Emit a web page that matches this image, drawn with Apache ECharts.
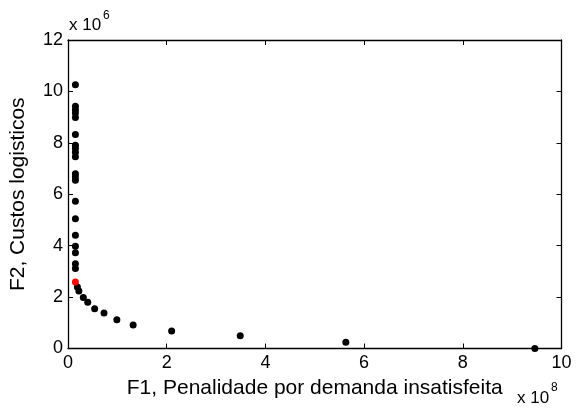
<!DOCTYPE html>
<html>
<head>
<meta charset="utf-8">
<script src="https://cdn.jsdelivr.net/npm/echarts@6/dist/echarts.min.js"></script>
<style>html,body{margin:0;padding:0;background:#fff}#c{width:582px;height:408px}</style>
</head>
<body>
<div id="c"></div>
<script>
// F1 in units of 1e8, F2 in units of 1e6
var f1 = [0.15,0.15,0.15,0.15,0.15,0.15,0.15,0.15,0.15,0.15,0.15,0.15,0.15,0.15,0.15,0.15,0.15,0.15,0.15,0.15,
          0.19,0.22,0.31,0.40,0.54,0.73,0.99,1.32,2.10,3.49,5.63,9.46];
var f2 = [10.26,9.42,9.29,9.16,8.99,8.32,7.91,7.79,7.63,7.46,6.80,6.67,6.54,5.73,5.05,4.41,3.98,3.72,3.30,3.11,
          2.39,2.24,1.98,1.80,1.55,1.38,1.12,0.91,0.68,0.50,0.24,0.0];
var selF1 = [0.15];
var selF2 = [2.59];
var xTicks = [0,2,4,6,8,10];
var yTicks = [0,2,4,6,8,10,12];

var pts = f1.map(function(v,i){return [v,f2[i]];});
var sel = selF1.map(function(v,i){return [v,selF2[i]];});
var FONT = '"Liberation Sans", Arial, sans-serif';
var chart = echarts.init(document.getElementById('c'), null, {renderer:'canvas'});
var axLine = {show:true, onZero:false, lineStyle:{color:'#000', width:1.3}};
var tick = {inside:true, length:5, lineStyle:{color:'#000'}};
chart.setOption({
  animation:false,
  backgroundColor:'#fff',
  grid:{left:68, right:20.5, top:40, bottom:59.5, containLabel:false},
  xAxis:[{
    type:'value', min:xTicks[0], max:xTicks[xTicks.length-1], interval:2,
    axisLine:axLine, axisTick:tick, splitLine:{show:false},
    axisLabel:{fontFamily:FONT, fontSize:18, color:'#000', margin:6},
    name:'F1, Penalidade por demanda insatisfeita', nameLocation:'middle', nameGap:24,
    nameTextStyle:{fontFamily:FONT, fontSize:21, color:'#000'}
  },{
    type:'value', position:'top', min:xTicks[0], max:xTicks[xTicks.length-1], interval:2,
    axisLine:axLine, axisTick:tick, axisLabel:{show:false}, splitLine:{show:false}
  }],
  yAxis:[{
    type:'value', min:yTicks[0], max:yTicks[yTicks.length-1], interval:2,
    axisLine:axLine, axisTick:tick, splitLine:{show:false},
    axisLabel:{fontFamily:FONT, fontSize:18, color:'#000', margin:5},
    name:'F2, Custos logisticos', nameLocation:'middle', nameGap:39,
    nameTextStyle:{fontFamily:FONT, fontSize:21, color:'#000'}
  },{
    type:'value', position:'right', min:yTicks[0], max:yTicks[yTicks.length-1], interval:2,
    axisLine:axLine, axisTick:tick, axisLabel:{show:false}, splitLine:{show:false}
  }],
  graphic:[
    {type:'text', x:69, y:17, style:{text:'x 10', fontSize:17, fontFamily:FONT, fill:'#000'}},
    {type:'text', x:103, y:10, style:{text:'6', fontSize:12, fontFamily:FONT, fill:'#000'}},
    {type:'text', x:517, y:390, style:{text:'x 10', fontSize:17, fontFamily:FONT, fill:'#000'}},
    {type:'text', x:551, y:382, style:{text:'8', fontSize:12, fontFamily:FONT, fill:'#000'}}
  ],
  series:[
    {type:'scatter', data:pts, symbol:'circle', symbolSize:7, itemStyle:{color:'#000', opacity:1}},
    {type:'scatter', data:sel, symbol:'circle', symbolSize:7, itemStyle:{color:'#ff0000', opacity:1}, z:3}
  ]
});
</script>
</body>
</html>
